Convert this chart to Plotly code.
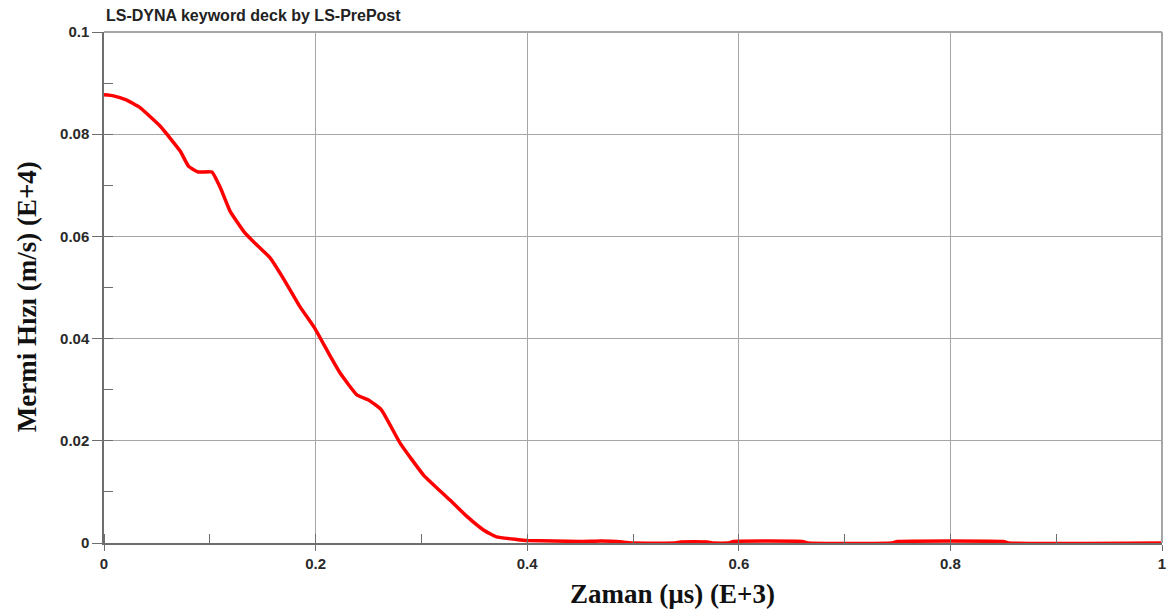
import plotly.graph_objects as go

# Time (E+3 µs) and projectile velocity (E+4 m/s)
zaman = [0.000, 0.009, 0.021, 0.034, 0.053, 0.072, 0.080, 0.089, 0.102, 0.110,
         0.119, 0.132, 0.144, 0.157, 0.170, 0.185, 0.199, 0.214, 0.223, 0.239,
         0.250, 0.262, 0.280, 0.302, 0.327, 0.343, 0.359, 0.371, 0.390, 0.400,
         0.450, 0.470, 0.490, 0.500, 0.540, 0.545, 0.570, 0.575, 0.590, 0.595,
         0.660, 0.665, 0.745, 0.750, 0.850, 0.855, 1.000]
hiz = [0.0877, 0.0875, 0.0867, 0.0852, 0.0816, 0.0767, 0.0737, 0.0726, 0.0726, 0.0695,
       0.0650, 0.0610, 0.0584, 0.0558, 0.0516, 0.0463, 0.0421, 0.0365, 0.0333, 0.0290,
       0.0280, 0.0261, 0.0195, 0.0133, 0.0084, 0.0052, 0.0025, 0.0012, 0.0007, 0.0005,
       0.0003, 0.0004, 0.0002, 0.0000, 0.0000, 0.0002, 0.0002, 0.0000, 0.0000, 0.0003,
       0.0003, 0.0000, 0.0000, 0.0003, 0.0003, 0.0000, 0.0000]

title_text = "LS-DYNA keyword deck by LS-PrePost"
x_title = "Zaman (µs) (E+3)"
y_title = "Mermi Hızı (m/s) (E+4)"

fig = go.Figure()
fig.add_trace(go.Scatter(x=zaman, y=hiz, mode="lines",
                         line=dict(color="#ff0000", width=3.5, shape="spline", smoothing=0.4),
                         showlegend=False, hoverinfo="skip"))

tickfont = dict(family="Liberation Sans", size=15, color="#2a2a2a", weight="bold")
grid = "#a6a6a6"
axc = "#6e6e6e"

fig.update_xaxes(range=[0, 1], dtick=0.2, tick0=0, showgrid=True, gridcolor=grid, gridwidth=1,
                 showline=True, linecolor=axc, linewidth=1.5, zeroline=False, automargin=False,
                 ticks="outside", ticklen=6, tickcolor=axc, tickfont=tickfont,
                 minor=dict(dtick=0.1, ticks="inside", ticklen=9, tickcolor=axc, showgrid=False))
fig.update_yaxes(range=[0, 0.1], dtick=0.02, tick0=0, showgrid=True, gridcolor=grid, gridwidth=1,
                 showline=True, linecolor=axc, linewidth=1.5, zeroline=False, automargin=False,
                 ticks="outside", ticklen=10, tickcolor=axc, tickfont=tickfont,
                 minor=dict(dtick=0.01, ticks="inside", ticklen=9, tickcolor=axc, showgrid=False))

# top and right border lines like the gridlines
fig.add_shape(type="line", xref="paper", yref="paper", x0=0, x1=1, y0=1, y1=1,
              line=dict(color=grid, width=2))
fig.add_shape(type="line", xref="paper", yref="paper", x0=1, x1=1, y0=0, y1=1,
              line=dict(color=grid, width=2))

fig.add_annotation(text=title_text, xref="paper", yref="paper", x=0.0, y=1.0,
                   xanchor="left", yanchor="middle", yshift=17, showarrow=False,
                   font=dict(family="Liberation Sans", size=16, color="#222222", weight="bold"))
fig.add_annotation(text=x_title, xref="paper", yref="paper", x=0.537, y=0,
                   xanchor="center", yanchor="middle", yshift=-51, showarrow=False,
                   font=dict(family="Liberation Serif", size=27, color="#111111", weight="bold"))
fig.add_annotation(text=y_title, xref="paper", yref="paper", x=0, y=0.481,
                   xanchor="center", yanchor="middle", xshift=-77, textangle=-90, showarrow=False,
                   font=dict(family="Liberation Serif", size=27, color="#111111", weight="bold"))

fig.update_layout(width=1167, height=614, plot_bgcolor="white", paper_bgcolor="white",
                  margin=dict(l=104, r=5, t=32, b=71), hovermode=False)

fig.write_html("out.html", config={"displayModeBar": False},
               post_script="document.body.style.margin='0px';")
